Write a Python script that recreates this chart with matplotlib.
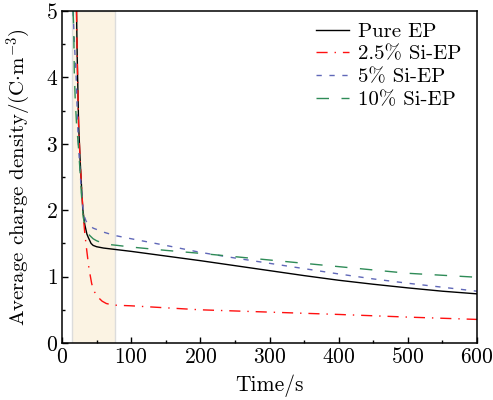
import numpy as np
import matplotlib
matplotlib.use('Agg')
import matplotlib.pyplot as plt

plt.rcParams['font.family'] = ['cmr10', 'DejaVu Serif']
plt.rcParams['mathtext.fontset'] = 'cm'
plt.rcParams['axes.formatter.use_mathtext'] = True
plt.rcParams['axes.unicode_minus'] = False

# ---- data ----
t_pure = [21, 22, 24, 26, 28, 30, 33, 36, 38, 42, 45, 50, 60, 76, 100, 150, 200, 250, 300, 350, 400, 450, 500, 550, 600]
q_pure = [5.0, 4.3, 3.3, 2.8, 2.4, 2.02, 1.78, 1.64, 1.59, 1.5, 1.47, 1.45, 1.43, 1.41, 1.38, 1.31, 1.24, 1.165, 1.09, 1.015, 0.945, 0.885, 0.83, 0.78, 0.74]

t_25 = [21, 22, 24, 26, 28, 30, 31, 33, 35.6, 39, 43, 47, 52, 58, 64, 70, 76, 100, 150, 200, 300, 400, 500, 600]
q_25 = [5.0, 4.3, 3.3, 2.8, 2.4, 2.05, 1.88, 1.65, 1.41, 1.12, 0.89, 0.77, 0.69, 0.63, 0.595, 0.58, 0.57, 0.56, 0.53, 0.50, 0.465, 0.43, 0.39, 0.355]

t_5 = [16, 18, 20.5, 22, 23.7, 26, 28, 30.6, 32.5, 34.6, 38, 45, 60, 76, 100, 150, 200, 250, 300, 350, 400, 450, 500, 550, 600]
q_5 = [5.0, 4.5, 4.0, 3.5, 3.0, 2.6, 2.3, 2.0, 1.9, 1.84, 1.79, 1.73, 1.67, 1.62, 1.57, 1.47, 1.365, 1.28, 1.20, 1.12, 1.04, 0.965, 0.90, 0.84, 0.78]

t_10 = [16, 17, 17.8, 19, 21, 23.6, 26, 28, 30.6, 33, 35.6, 40, 45, 50, 62, 80, 100, 150, 200, 250, 300, 350, 400, 450, 500, 550, 600]
q_10 = [5.0, 4.72, 4.07, 3.7, 3.3, 2.98, 2.6, 2.25, 1.9, 1.78, 1.69, 1.62, 1.57, 1.54, 1.49, 1.47, 1.445, 1.395, 1.35, 1.30, 1.25, 1.20, 1.15, 1.10, 1.05, 1.02, 0.99]

labels = ['Pure EP', '2.5% Si-EP', '5% Si-EP', '10% Si-EP']
shade = (14.5, 76.5)

fig = plt.figure(figsize=(4.93, 4.0), dpi=100)
ax = fig.add_axes([62 / 493, 57 / 400, 415 / 493, 332 / 400])

ax.axvspan(shade[0], shade[1], facecolor='#fbf3e3', edgecolor='#dcdcdc', lw=1.0, zorder=0)

ax.plot(t_pure, q_pure, color='black', lw=1.0, label=labels[0])
ax.plot(t_25, q_25, color='#ff1010', lw=1.0, dashes=(8, 5, 1, 5), label=labels[1])
ax.plot(t_5, q_5, color='#6068b8', lw=1.0, dashes=(3.8, 5.5), label=labels[2])
ax.plot(t_10, q_10, color='#2e8b57', lw=1.0, dashes=(9, 9), label=labels[3])

ax.set_xlim(0, 600)
ax.set_ylim(0, 5)
ax.set_xticks(np.arange(0, 601, 100))
ax.set_xticks(np.arange(50, 600, 100), minor=True)
ax.set_yticks(np.arange(0, 6, 1))
ax.set_yticks(np.arange(0.5, 5, 1), minor=True)
ax.tick_params(which='both', direction='in', labelsize=15.5, top=False, right=False, pad=3)
ax.tick_params(which='major', length=4, width=1.0)
ax.tick_params(which='minor', length=2.5, width=1.0)
for s in ax.spines.values():
    s.set_linewidth(1.1)

ax.set_xlabel('Time/s', fontsize=15.5, labelpad=5)
ax.set_ylabel(r'Average charge density/(C$\cdot$m$^{-3}$)', fontsize=15, labelpad=9)

ax.legend(loc='upper left', bbox_to_anchor=(0.612, 0.966), frameon=False, fontsize=15,
          handlelength=1.6, handletextpad=0.4, labelspacing=0.2, borderpad=0, borderaxespad=0)

fig.savefig('out.png', dpi=100)
